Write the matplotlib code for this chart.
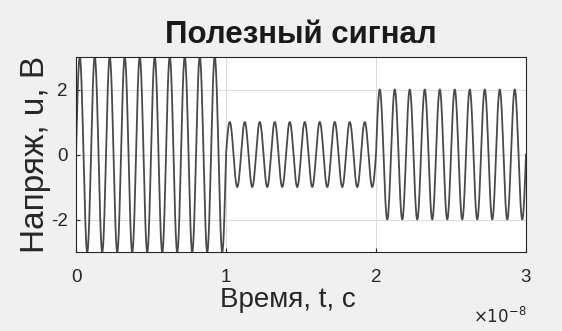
import numpy as np
import matplotlib
matplotlib.use("Agg")
import matplotlib.pyplot as plt
from matplotlib.ticker import FuncFormatter

# параметры сигнала (АМн)
amplitudes = [3, 1, 2]          # амплитуда на каждом интервале, В
bit_time = 1e-8                 # длительность интервала, с
f_carrier = 1e9                 # несущая, Гц
xticks = [0, 1e-8, 2e-8, 3e-8]
yticks = [-2, 0, 2]

plt.rcParams['font.family'] = ['Liberation Sans', 'DejaVu Sans']

t_parts, u_parts = [], []
for i, a in enumerate(amplitudes):
    t = np.linspace(i * bit_time, (i + 1) * bit_time, 1500)
    t_parts.append(t)
    u_parts.append(a * np.sin(2 * np.pi * f_carrier * t))
t_all = np.concatenate(t_parts)
u_all = np.concatenate(u_parts)

fig = plt.figure(figsize=(5.62, 3.31), dpi=100, facecolor='#f0f0f0')
ax = fig.add_axes([76 / 562, 1 - 252 / 331, 450 / 562, 195 / 331])
ax.set_facecolor('white')

ax.plot(t_all, u_all, color='#4a4a4a', lw=1.3)

ax.set_xlim(0, 3e-8)
ax.set_ylim(-3, 3)
ax.set_xticks(xticks)
ax.set_yticks(yticks)
ax.xaxis.set_major_formatter(FuncFormatter(lambda v, p: f'{v / 1e-8:g}'))
ax.yaxis.set_major_formatter(FuncFormatter(lambda v, p: f'{v:g}'))
ax.grid(True, color='#dcdcdc', lw=0.8)
ax.tick_params(direction='in', length=3, labelsize=13.5, colors='#262626',
               labelcolor='#262626')
ax.tick_params(axis='x', pad=12)
ax.tick_params(axis='y', pad=6)
for s in ax.spines.values():
    s.set_color('#262626')
    s.set_linewidth(0.8)

ax.set_title('Полезный сигнал', fontsize=22.5, fontweight='bold', color='#1a1a1a', pad=10)
ax.set_xlabel('Время, t, с', fontsize=20, color='#262626', labelpad=1)
ax.xaxis.label.set_x(0.47)
ax.set_ylabel('Напряж, u, В', fontsize=24, color='#262626', labelpad=0)
ax.text(1.0, -0.33, r'$\times10^{-8}$', transform=ax.transAxes, ha='right',
        va='center', fontsize=12, color='#262626')

fig.savefig('out.png', dpi=100, facecolor=fig.get_facecolor())
